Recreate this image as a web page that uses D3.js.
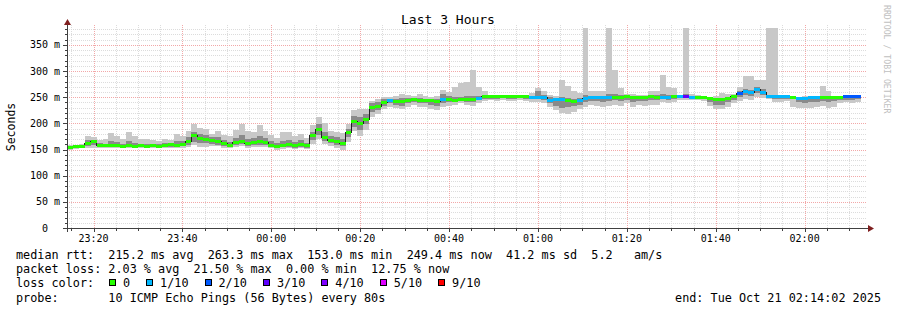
<!DOCTYPE html>
<html>
<head>
<meta charset="utf-8">
<script src="https://cdn.jsdelivr.net/npm/d3@7"></script>
<style>
  body { margin: 0; background: #fff; }
  text { font-family: "DejaVu Sans Mono", monospace; fill: #000; }
</style>
</head>
<body>
<svg id="chart" width="897" height="310"></svg>
<script>
const WIDTH = 897;
const HEIGHT = 310;

// 80 s per sample, 3 hours shown
const STEP = 80;
const START = new Date(2025, 9, 20, 23, 14, 2);
const END = new Date(2025, 9, 21, 2, 14, 2);

// median rtt per step (ms)
const median = [
  154,155,156,162,165,158,157,157,158,156,
  157,156,157,156,157,156,157,159,158,160,
  166,176,172,170,167,165,161,158,163,166,
  161,164,165,164,158,155,158,160,157,160,
  157,176,189,173,168,164.5,161,182,203,200,
  208,231,233,240,243.5,242,241.5,243,246,244,
  243.5,243,241.5,246,246,244,246.5,246.5,245.5,248,
  250.5,250.5,250.5,250.5,250.5,250.5,250.5,250.5,250,250,
  250,244,245,245,244,241.5,243,248,249,249,
  249,249,250,250,251,250,250,250,251,250,
  250,250,251,251.5,251,250,250,249,246.7,245.5,
  245.5,248,251.5,257,260.7,259,265,259.5,250.5,250.5,
  250.5,250.5,250,248,248,249,249,250,250,250,
  250,251,251,251
];

// lost pings out of 10 per step
const loss = [
  0,0,0,0,0,0,0,0,0,0, 0,0,0,0,0,0,0,0,0,0,
  0,0,0,0,0,0,0,0,0,0, 0,0,0,0,0,0,0,0,0,0,
  0,0,0,0,0,0,0,0,0,0, 0,0,0,0,1,0,0,0,0,0,
  0,0,0,1,0,0,0,0,0,1, 0,0,0,0,0,0,0,0,1,1,
  1,1,1,1,0,0,1,1,1,1, 1,1,0,0,0,0,0,0,0,0,
  1,1,0,1,3,1,0,0,0,0, 0,0,0,2,1,1,1,1,1,1,
  1,1,0,1,1,1,1,0,0,0, 0,2,2,2
];

// smoke: outer ping range (ms)
const smokeLo = [
  150,151,152,152,152,152,152,152,153,152,
  152,152,153,152,153,152,153,153,152,153,
  154,158,155,155,156,156,152,152,155,156,
  153,154,155,154,152,150,151,152,151,152,
  151,160,170,160,156,152,150,165,185,175,
  188,212,218,228,232,230,228,232,235,232,
  232,228,226,232,234,236,238,235,234,238,
  242,244,243,244,242,243,244,243,240,240,
  238,232,226,220,218,222,228,232,236,234,
  232,234,236,233,238,232,236,234,236,236,
  240,238,240,244,244,244,244,242,234,228,
  228,232,238,242,246,244,250,248,246,240,
  240,242,232,229,229,230,232,234,230,232,
  238,240,238,240
];
const smokeHi = [
  158,158,160,175,174,168,170,182,176,170,
  183,176,170,170,168,166,170,168,180,176,
  186,198,192,190,180,186,178,176,188,198,
  186,184,196,186,178,172,184,184,176,180,
  172,196,212,200,186,184,182,198,225,228,
  228,242,246,250,250,252,256,254,252,256,
  252,250,252,264,260,270,278,280,302,270,
  262,255,252,252,252,252,253,252,258,268,
  262,254,252,283,271,262,258,382,262,262,
  262,382,302,268,256,256,254,254,262,262,
  292,270,268,254,382,256,254,252,250,252,
  258,256,256,270,290,290,283,283,382,382,
  250,250,250,250,252,252,250,271,261,250,
  252,252,254,253
];

// smoke: inner (darker) ping range (ms)
const coreLo = [
  152,153,154,156,158,154,154,154,155,154,
  154,154,155,154,155,154,155,155,155,156,
  158,164,162,162,160,158,156,154,158,160,
  156,158,158,158,154,152,154,155,153,155,
  153,168,178,166,162,158,156,174,194,188,
  198,222,226,234,238,236,234,238,240,238,
  238,236,234,238,240,240,242,240,240,244,
  246,247,247,248,247,247,248,247,246,246,
  244,238,234,230,232,234,236,240,242,242,
  240,242,244,242,244,240,242,242,244,244,
  246,244,246,248,248,247,247,246,240,236,
  236,240,244,250,254,252,258,254,248,246,
  246,246,247,240,238,240,240,242,240,242,
  244,244,244,246
];
const coreHi = [
  156,157,158,168,168,162,161,166,165,161,
  166,163,161,160,161,160,162,163,166,166,
  174,184,180,178,174,174,168,164,172,178,
  170,172,176,172,166,162,166,168,164,168,
  162,184,198,184,176,174,170,190,214,212,
  218,238,240,246,247,246,248,248,249,248,
  247,247,246,256,252,250,250,252,252,252,
  253,252,252,252,252,252,252,252,253,262,
  254,250,249,250,248,246,248,254,252,252,
  252,256,256,254,253,252,252,252,254,254,
  256,254,253,254,256,253,252,251,250,249,
  249,251,254,262,266,264,270,266,254,253,
  252,252,252,251,251,252,252,253,252,252,
  252,254,255,254
];

const yTicks = [0, 50, 100, 150, 200, 250, 300, 350];
const lossLabels = ["0", "1/10", "2/10", "3/10", "4/10", "5/10", "9/10"];
const lossSteps = [0, 1, 2, 3, 4, 5, 9];
const lossColors = ["#26ff00", "#00b8ff", "#0059ff", "#5e00ff", "#7e00ff", "#dd00ff", "#ff0000"];

const legendLines = [
  "median rtt:  215.2 ms avg  263.3 ms max  153.0 ms min  249.4 ms now  41.2 ms sd  5.2   am/s",
  "packet loss: 2.03 % avg  21.50 % max  0.00 % min  12.75 % now",
  "loss color:",
  "probe:       10 ICMP Echo Pings (56 Bytes) every 80s"
];
const endLabel = "end: Tue Oct 21 02:14:02 2025";

const lossColor = n => lossColors[Math.max(0, lossSteps.indexOf(n))];

let svg = d3.select("#chart");

svg.append("rect")
   .attr("width", WIDTH)
   .attr("height", HEIGHT)
   .attr("fill", "#fff");

let x = d3.scaleTime()
          .domain([START, END])
          .range([67, 867]);
let y = d3.scaleLinear()
          .domain([0, 388])
          .range([228, 25]);

const stepTime = i => d3.timeSecond.offset(START, i * STEP);

// grid
let grid = svg.append("g")
              .attr("shape-rendering", "crispEdges")
              .attr("stroke-dasharray", "1,1");

let minorTimes = d3.timeMinute.every(5).range(START, END)
                   .filter(d => d.getMinutes() % 20 !== 0);
let majorTimes = d3.timeMinute.every(20).range(START, END);

grid.selectAll(".vminor")
    .data(minorTimes)
    .enter().append("line")
    .attr("x1", d => Math.round(x(d)) + 0.5)
    .attr("x2", d => Math.round(x(d)) + 0.5)
    .attr("y1", y(0))
    .attr("y2", y.range()[1])
    .attr("stroke", "#dcdcdc");

grid.selectAll(".hminor")
    .data(d3.range(10, 388, 10).filter(v => v % 50 !== 0))
    .enter().append("line")
    .attr("x1", x.range()[0])
    .attr("x2", x.range()[1])
    .attr("y1", d => Math.round(y(d)) + 0.5)
    .attr("y2", d => Math.round(y(d)) + 0.5)
    .attr("stroke", "#dcdcdc");

grid.selectAll(".vmajor")
    .data(majorTimes)
    .enter().append("line")
    .attr("x1", d => Math.round(x(d)) + 0.5)
    .attr("x2", d => Math.round(x(d)) + 0.5)
    .attr("y1", y(0))
    .attr("y2", y.range()[1])
    .attr("stroke", "#f2a8a8");

grid.selectAll(".hmajor")
    .data(yTicks.filter(v => v > 0))
    .enter().append("line")
    .attr("x1", x.range()[0])
    .attr("x2", x.range()[1])
    .attr("y1", d => Math.round(y(d)) + 0.5)
    .attr("y2", d => Math.round(y(d)) + 0.5)
    .attr("stroke", "#f2a8a8");

// smoke
let plot = svg.append("g").attr("shape-rendering", "crispEdges");

const band = (lo, hi, color) => {
  plot.append("g")
      .selectAll("rect")
      .data(median)
      .enter().append("rect")
      .attr("x", (d, i) => x(stepTime(i)))
      .attr("width", (d, i) => x(stepTime(i + 1)) - x(stepTime(i)))
      .attr("y", (d, i) => y(Math.min(hi[i], 388)))
      .attr("height", (d, i) => y(lo[i]) - y(Math.min(hi[i], 388)))
      .attr("fill", color);
};
band(smokeLo, smokeHi, "#c8c8c8");
band(coreLo, coreHi, "#8a8a8a");

// median line + loss colour
let pts = median.map((d, i) => [x(stepTime(i)), y(d)]);
pts.push([x(stepTime(median.length)), y(median[median.length - 1])]);

plot.append("path")
    .attr("d", d3.line().curve(d3.curveStepAfter)(pts))
    .attr("fill", "none")
    .attr("stroke", "#202020")
    .attr("stroke-width", 1);

plot.append("g")
    .selectAll("rect")
    .data(median)
    .enter().append("rect")
    .attr("x", (d, i) => x(stepTime(i)))
    .attr("width", (d, i) => x(stepTime(i + 1)) - x(stepTime(i)))
    .attr("y", d => y(d) - 1.5)
    .attr("height", 3)
    .attr("fill", (d, i) => lossColor(loss[i]));

// axes
let axes = svg.append("g").attr("shape-rendering", "crispEdges");
axes.append("line")
    .attr("x1", 63).attr("x2", 868)
    .attr("y1", y(0) + 0.5).attr("y2", y(0) + 0.5)
    .attr("stroke", "#404040");
axes.append("line")
    .attr("x1", 67.5).attr("x2", 67.5)
    .attr("y1", 232).attr("y2", 24)
    .attr("stroke", "#404040");

axes.selectAll(".xt")
    .data(minorTimes.concat(majorTimes))
    .enter().append("line")
    .attr("x1", d => Math.round(x(d)) + 0.5)
    .attr("x2", d => Math.round(x(d)) + 0.5)
    .attr("y1", y(0) + 1)
    .attr("y2", d => y(0) + (d.getMinutes() % 20 === 0 ? 4 : 3))
    .attr("stroke", "#404040");

axes.selectAll(".yt")
    .data(d3.range(0, 388, 10))
    .enter().append("line")
    .attr("x1", d => d % 50 === 0 ? 63 : 65)
    .attr("x2", 67)
    .attr("y1", d => Math.round(y(d)) + 0.5)
    .attr("y2", d => Math.round(y(d)) + 0.5)
    .attr("stroke", "#404040");

svg.append("path")
   .attr("d", "M64,25 L71,25 L67.5,19 Z")
   .attr("fill", "#7f1f1f");
svg.append("path")
   .attr("d", "M868,225 L868,232 L874,228.5 Z")
   .attr("fill", "#7f1f1f");

// tick labels
svg.append("g")
   .selectAll("text")
   .data(yTicks)
   .enter().append("text")
   .attr("x", d => d === 0 ? 48 : 60)
   .attr("y", d => y(d) + 3.5)
   .attr("text-anchor", "end")
   .style("font-size", "10px")
   .text(d => d === 0 ? "0" : d + " m");

svg.append("g")
   .selectAll("text")
   .data(majorTimes)
   .enter().append("text")
   .attr("x", d => x(d))
   .attr("y", 242)
   .attr("text-anchor", "middle")
   .style("font-size", "10px")
   .text(d3.timeFormat("%H:%M"));

// titles
svg.append("text")
   .attr("x", 448)
   .attr("y", 24)
   .attr("text-anchor", "middle")
   .style("font-size", "13px")
   .text("Last 3 Hours");

svg.append("text")
   .attr("transform", "translate(15,127) rotate(-90)")
   .attr("text-anchor", "middle")
   .style("font-size", "11.5px")
   .text("Seconds");

svg.append("text")
   .attr("transform", "translate(884,5) rotate(90)")
   .style("font-size", "8.2px")
   .style("fill", "#c0c0c0")
   .text("RRDTOOL / TOBI OETIKER");

// legend
const CW = 7.1;
const LINE0 = 259;
const LINEH = 14.2;

svg.append("g")
   .selectAll("text")
   .data(legendLines)
   .enter().append("text")
   .attr("x", 16)
   .attr("y", (d, i) => LINE0 + i * LINEH)
   .style("font-size", "11.8px")
   .style("white-space", "pre")
   .text(d => d);

svg.append("text")
   .attr("x", 881)
   .attr("y", LINE0 + 3 * LINEH)
   .attr("text-anchor", "end")
   .style("font-size", "11.8px")
   .text(endLabel);

let lx = 109;
lossLabels.forEach((lab, i) => {
  svg.append("rect")
     .attr("x", lx + 0.5)
     .attr("y", LINE0 + 2 * LINEH - 7.5)
     .attr("width", 6)
     .attr("height", 6)
     .attr("fill", lossColors[i])
     .attr("stroke", "#000")
     .attr("stroke-width", 1)
     .attr("shape-rendering", "crispEdges");
  svg.append("text")
     .attr("x", lx + 14)
     .attr("y", LINE0 + 2 * LINEH)
     .style("font-size", "11.8px")
     .text(lab);
  lx = lx + 14 + lab.length * CW + 16;
});
</script>
</body>
</html>
